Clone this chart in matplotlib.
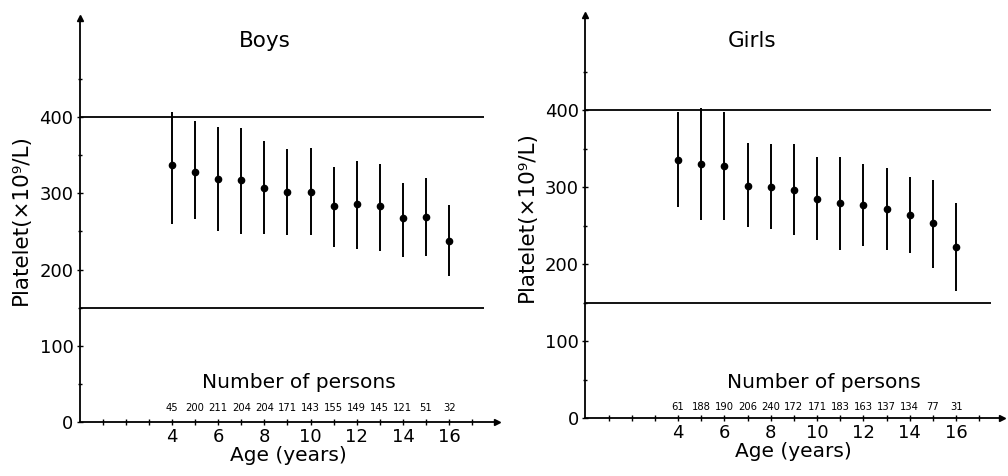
import matplotlib.pyplot as plt

ages = [4, 5, 6, 7, 8, 9, 10, 11, 12, 13, 14, 15, 16]

boys_mean = [337, 328, 319, 317, 307, 302, 302, 283, 286, 283, 267, 269, 237]
boys_high = [407, 395, 387, 385, 368, 358, 359, 335, 342, 338, 314, 320, 285]
boys_low = [260, 266, 251, 247, 247, 245, 245, 230, 227, 224, 217, 218, 192]
boys_n = [45, 200, 211, 204, 204, 171, 143, 155, 149, 145, 121, 51, 32]

girls_mean = [335, 330, 328, 302, 300, 296, 285, 280, 277, 272, 264, 254, 223]
girls_high = [398, 403, 398, 358, 356, 356, 340, 340, 330, 325, 313, 310, 280]
girls_low = [275, 258, 258, 249, 246, 238, 232, 219, 224, 218, 214, 195, 165]
girls_n = [61, 188, 190, 206, 240, 172, 171, 183, 163, 137, 134, 77, 31]

ref_low, ref_high = 150, 400
yticks = [0, 100, 200, 300, 400]
xticks = [4, 6, 8, 10, 12, 14, 16]

fig = plt.figure(figsize=(10.08, 4.76), dpi=100)


def draw_panel(rect, xmax, ymax, mean, high, low, counts, title, title_xy, np_xy, count_y):
    ax = fig.add_axes(rect)
    ax.set_xlim(0, xmax)
    ax.set_ylim(0, ymax)
    for s in ("top", "right"):
        ax.spines[s].set_visible(False)
    for s in ("left", "bottom"):
        ax.spines[s].set_linewidth(1.3)
    # arrow heads on the axes
    ax.plot(1, 0, ">k", ms=4, transform=ax.transAxes, clip_on=False)
    ax.plot(0, 1, "^k", ms=4, transform=ax.transAxes, clip_on=False)

    ax.hlines([ref_low, ref_high], 0, 17.5, color="black", lw=1.3)
    ax.vlines(ages, low, high, color="black", lw=1.4)
    ax.plot(ages, mean, "o", color="black", ms=4.5)

    ax.set_yticks(yticks)
    ax.set_yticks([50, 150, 250, 350, 450], minor=True)
    ax.set_xticks(xticks)
    ax.set_xticks(range(1, 18), minor=True)
    ax.tick_params(axis="both", which="both", direction="inout", length=5, width=1)
    ax.tick_params(axis="y", which="minor", length=3)
    ax.tick_params(axis="both", labelsize=13, pad=2)

    ax.set_xlabel("Age (years)", fontsize=14.5, labelpad=0)
    ax.set_ylabel("Platelet(×10⁹/L)", fontsize=15.5, labelpad=6)
    ax.text(title_xy[0], title_xy[1], title, fontsize=15.5, ha="center", va="center")
    ax.text(np_xy[0], np_xy[1], "Number of persons", fontsize=14.5, ha="center", va="center")
    for a, n in zip(ages, counts):
        ax.text(a, count_y, str(n), fontsize=8, ha="center", va="center",
                fontstretch="condensed")
    return ax


draw_panel([0.079, 0.1134, 0.414, 0.849], 18.07, 530,
           boys_mean, boys_high, boys_low, boys_n,
           "Boys", (8.0, 500), (9.5, 52), 18)
draw_panel([0.5807, 0.1218, 0.4134, 0.8466], 17.98, 524,
           girls_mean, girls_high, girls_low, girls_n,
           "Girls", (7.2, 490), (10.3, 46), 14)

fig.savefig("out.png", dpi=100)
